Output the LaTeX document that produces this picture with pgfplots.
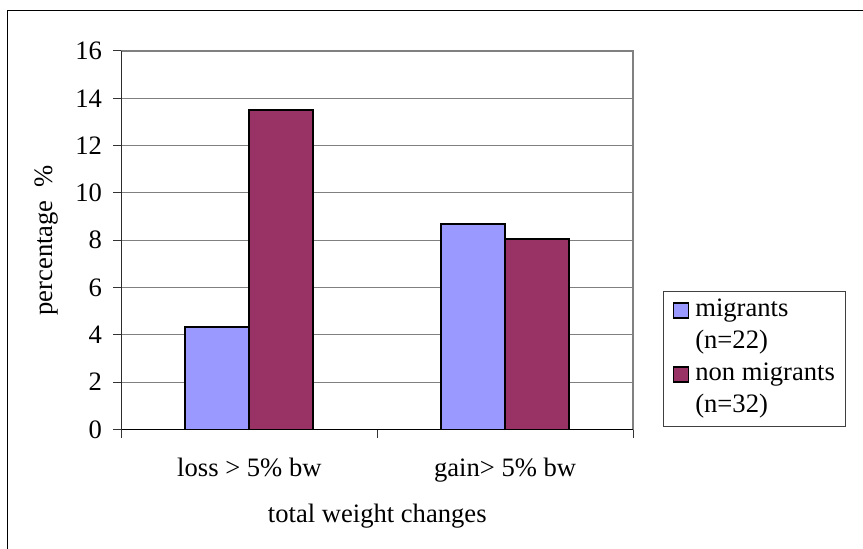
\documentclass[border=0pt]{standalone}
\usepackage{pgfplots}
\pgfplotsset{compat=1.18}
\usepackage{fontspec}
\setmainfont{Liberation Serif}

\definecolor{migr}{HTML}{9999FF}
\definecolor{nonmigr}{HTML}{993366}
\definecolor{gridgray}{HTML}{808080}

\begin{document}
\begin{tikzpicture}[x=1pt,y=1pt]
% page: the plot area's lower left corner is the origin
\useasboundingbox (-121.5,-119.5) rectangle (741.5,429.5);
% chart frame (left and top edges)
\draw[black, line width=1pt] (-114,-130) -- (-114,418.5) -- (750,418.5);

\begin{axis}[
  at={(0pt,0pt)}, anchor=south west,
  scale only axis, width=511.5pt, height=378.5pt,
  font=\fontsize{26.6pt}{32pt}\selectfont,
  /pgf/number format/assume math mode=true,
  ybar=0pt, bar width=0.25,
  xmin=-0.5, xmax=1.5, ymin=0, ymax=16,
  xtick={-0.5,0.5,1.5}, xticklabels={},
  extra x ticks={0,1},
  extra x tick labels={loss > 5\% bw, gain> 5\% bw},
  extra x tick style={major tick length=0pt,
    xticklabel style={anchor=base, yshift=-47pt}},
  ytick={0,2,...,16},
  yticklabel style={xshift=-8pt},
  tick align=outside, major tick length=8pt,
  xtick pos=bottom, ytick pos=left,
  ymajorgrids, grid style={gridgray, line width=1pt},
  axis line style={gridgray, line width=1.2pt},
  tick style={black!80, line width=1pt},
  xlabel={total weight changes},
  xlabel style={at={(axis description cs:0.5,-0.2444)}, anchor=base},
  ylabel={percentage\ \ \%},
  ylabel style={at={(axis description cs:-0.1457,0.5)}, anchor=center},
  legend cell align=left,
  legend style={at={(rel axis cs:1.0587,0.366)}, anchor=north west,
    draw=black!75, line width=1pt, inner xsep=9pt, inner ysep=7.5pt,
    row sep=8pt, column sep=4pt,
    nodes={inner xsep=2pt, inner ysep=0pt, text height=18pt, text depth=6pt},
    font=\fontsize{26.6pt}{32pt}\selectfont},
  legend image code/.code={\draw[#1, line width=1.8pt] (0pt,-7pt) rectangle (15pt,8pt);},
]
\addplot[fill=migr, draw=black, line width=2pt] coordinates {(0,4.32) (1,8.68)};
\addlegendentry{migrants}
\addlegendimage{empty legend}
\addlegendentry{(n=22)}
\addplot[fill=nonmigr, draw=black, line width=2pt] coordinates {(0,13.52) (1,8.06)};
\addlegendentry{non migrants}
\addlegendimage{empty legend}
\addlegendentry{(n=32)}
% dark left and bottom axis lines
\draw[black, line width=1.5pt] (rel axis cs:0,1) -- (rel axis cs:0,0) -- (rel axis cs:1,0);
\end{axis}
\end{tikzpicture}
\end{document}
